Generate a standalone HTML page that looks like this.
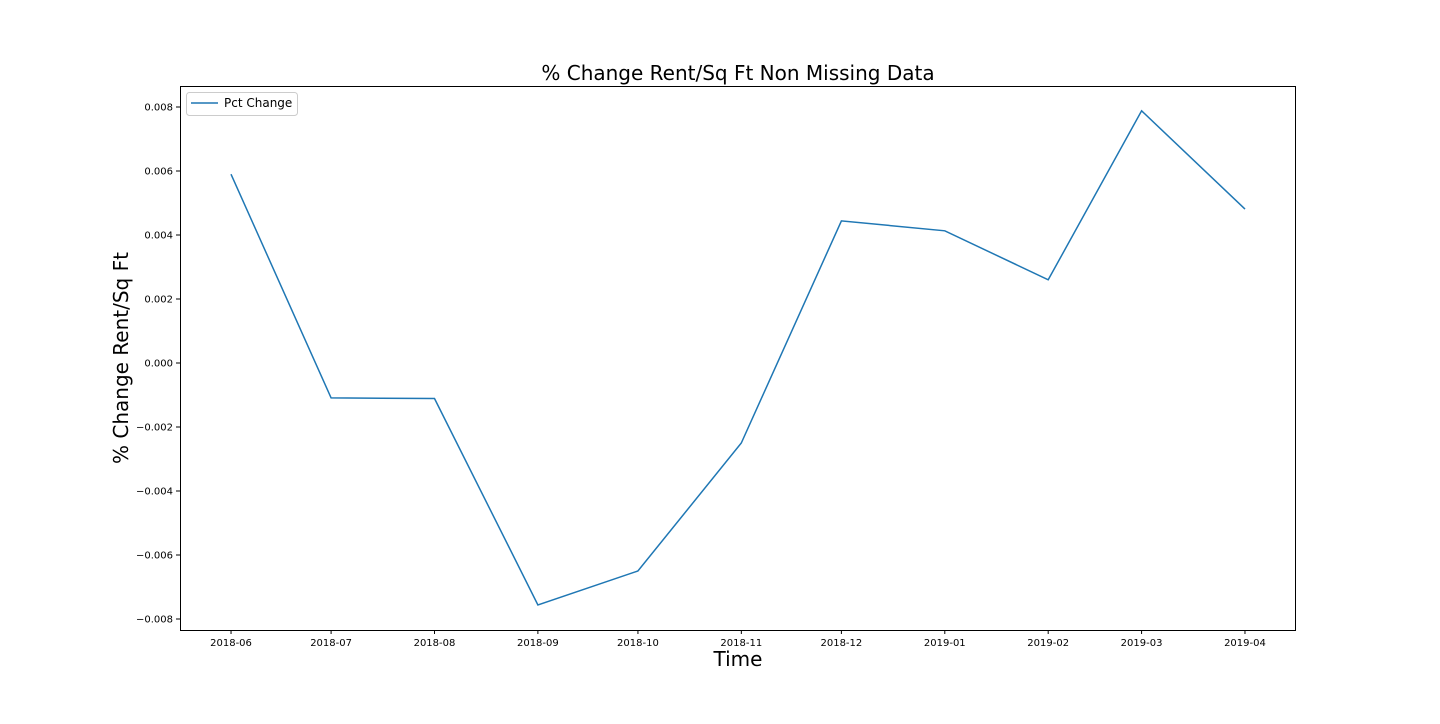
<!DOCTYPE html>
<html><head><meta charset="utf-8"><style>
body{margin:0;background:#fff;width:1440px;height:720px;overflow:hidden;font-family:"DejaVu Sans","Liberation Sans",sans-serif}
text{font-family:"DejaVu Sans","Liberation Sans",sans-serif}
</style></head><body>
<svg id="chart" width="1440" height="720" xmlns="http://www.w3.org/2000/svg">
<rect width="1440" height="720" fill="#fff"/>
<text x="738" y="80" font-size="20" text-anchor="middle" fill="#000">% Change Rent/Sq Ft Non Missing Data</text>
<text x="738" y="666" font-size="20" text-anchor="middle" fill="#000">Time</text>
<text x="128" y="358" font-size="20" text-anchor="middle" fill="#000" transform="rotate(-90 128 358)">% Change Rent/Sq Ft</text>
<g id="xticks"></g>
<g id="yticks"></g>
<path id="line" fill="none" stroke="#1f77b4" stroke-width="1.5"/>
<rect x="180.5" y="86.5" width="1115" height="544" fill="none" stroke="#000" stroke-width="1"/>
<g>
<rect x="186.5" y="92.5" width="111" height="23" rx="3" fill="#fff" stroke="#ccc"/>
<line x1="191" y1="103" x2="218" y2="103" stroke="#1f77b4" stroke-width="1.5"/>
<text x="224" y="107" font-size="12" fill="#000">Pct Change</text>
</g>
</svg>
<script>
const categories=["2018-06","2018-07","2018-08","2018-09","2018-10","2018-11","2018-12","2019-01","2019-02","2019-03","2019-04"];
const dayOffsets=[0,30,61,92,122,153,183,214,245,273,304];
const values=[0.0059,-0.00109,-0.00111,-0.00756,-0.0065,-0.0025,0.00444,0.00413,0.0026,0.00788,0.00481];
const yTickValues=[0.008,0.006,0.004,0.002,0,-0.002,-0.004,-0.006,-0.008];
const yTickLabels=["0.008","0.006","0.004","0.002","0.000","\u22120.002","\u22120.004","\u22120.006","\u22120.008"];
const L=180,R=1296,T=86,B=630;
const xMin=-15.3,xMax=319.3,yMin=-0.008344,yMax=0.008656;
const xs=d=>L+(d-xMin)/(xMax-xMin)*(R-L);
const ys=v=>B-(v-yMin)/(yMax-yMin)*(B-T);
const NS="http://www.w3.org/2000/svg";
const xg=document.getElementById('xticks'),yg=document.getElementById('yticks');
categories.forEach((c,i)=>{
 const x=xs(dayOffsets[i]);
 const ln=document.createElementNS(NS,'line');
 
 
 ln.setAttribute('x1',x);ln.setAttribute('x2',x);ln.setAttribute('y1',B);ln.setAttribute('y2',B+4);ln.setAttribute('stroke','#000');
 xg.appendChild(ln);
 const t=document.createElementNS(NS,'text');
 
 
 t.setAttribute('x',x);t.setAttribute('y',B+16);t.setAttribute('font-size','10');t.setAttribute('text-anchor','middle');
 t.textContent=c;xg.appendChild(t);
});
yTickValues.forEach((v,i)=>{
 const y=ys(v);
 const ln=document.createElementNS(NS,'line');
 
 
 ln.setAttribute('x1',L-4);ln.setAttribute('x2',L);ln.setAttribute('y1',y);ln.setAttribute('y2',y);ln.setAttribute('stroke','#000');
 yg.appendChild(ln);
 const t=document.createElementNS(NS,'text');
 
 
 t.setAttribute('x',L-7);t.setAttribute('y',y+3.5);t.setAttribute('font-size','10');t.setAttribute('text-anchor','end');
 t.textContent=yTickLabels[i];yg.appendChild(t);
});
document.getElementById('line').setAttribute('d',values.map((v,i)=>(i?'L':'M')+xs(dayOffsets[i]).toFixed(1)+','+ys(v).toFixed(1)).join(' '));
</script>
</body></html>
